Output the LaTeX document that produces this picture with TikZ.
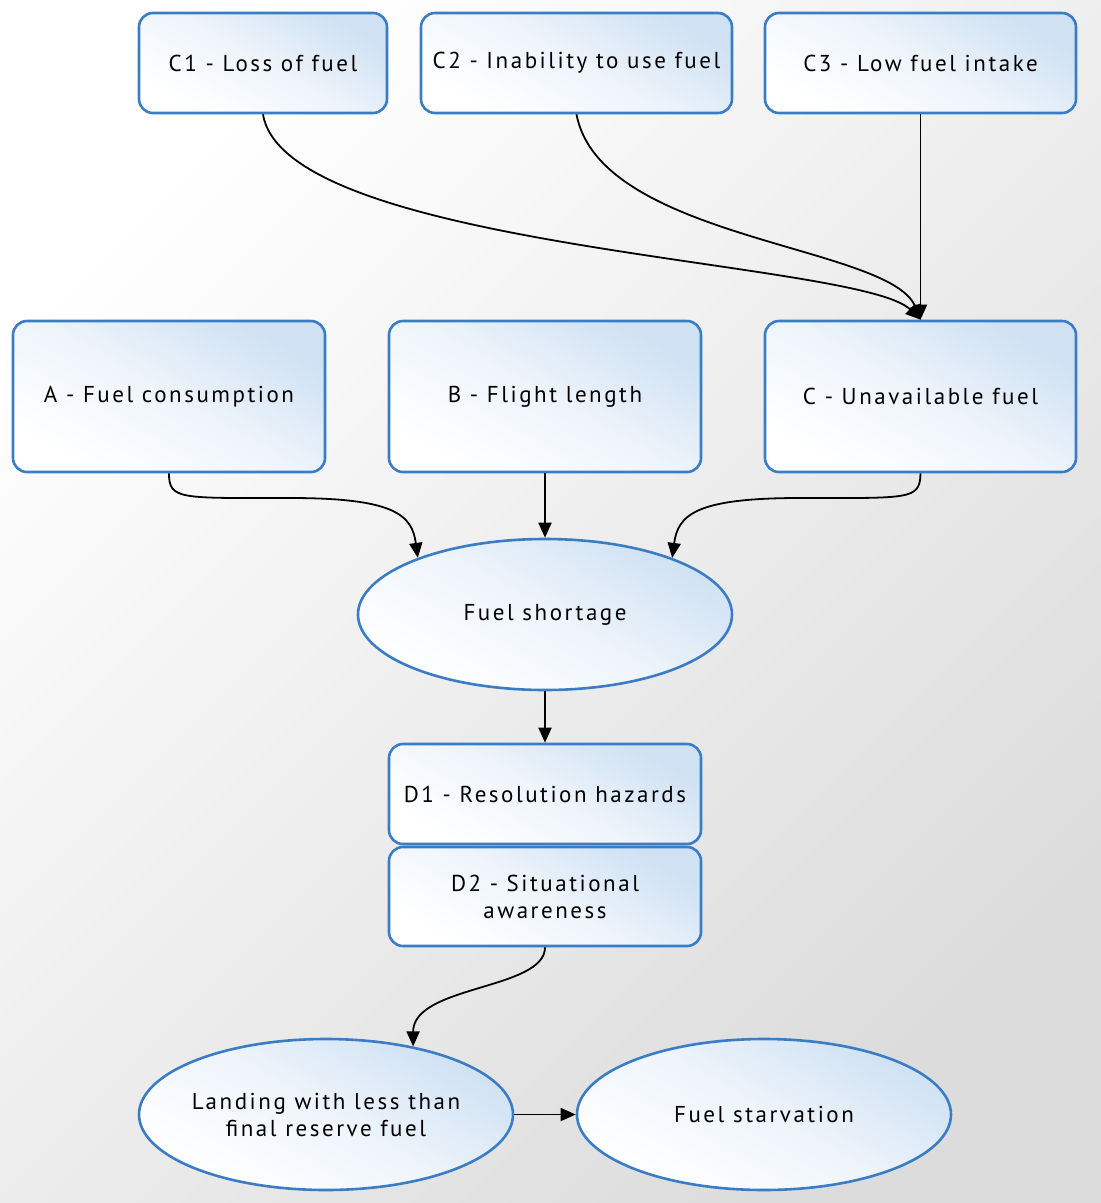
\documentclass[tikz,border=0pt]{standalone}
\usepackage{fontspec}
\setmainfont{PT Sans}[LetterSpace=11]
\usetikzlibrary{arrows.meta,shapes.geometric}
\definecolor{edgeblue}{HTML}{3A7DC5}
\definecolor{fillblue}{HTML}{CFE1F3}
\definecolor{bggray}{HTML}{DCDCDC}
\tikzset{
  lbl/.style={font=\fontsize{23}{27}\selectfont, align=center, inner sep=0pt},
  shadefill/.style={top color=fillblue, bottom color=white, middle color=fillblue!35!white, shading angle=-30},
  box/.style={lbl, draw=edgeblue, line width=2.6pt, rounded corners=14pt, shadefill},
  oval/.style={lbl, ellipse, inner sep=-10pt, draw=edgeblue, line width=2.6pt, shadefill},
  link/.style={draw=black, line width=1.8pt, -{Triangle[length=15pt,width=13pt]}}
}
\begin{document}
\begin{tikzpicture}[x=1pt,y=-1pt]
  \shade[top color=white, bottom color=bggray, shading angle=45] (0,0) rectangle (1101,1203);
  \useasboundingbox (0,0) rectangle (1101,1203);

  \node[box, minimum width=248pt, minimum height=100pt] (c1) at (263,63) {C1 - Loss of fuel};
  \node[box, minimum width=311pt, minimum height=100pt] (c2) at (576.5,63) {C2 - Inability to use fuel};
  \node[box, minimum width=311pt, minimum height=100pt] (c3) at (920.5,63) {C3 - Low fuel intake};

  \node[box, minimum width=312pt, minimum height=151pt] (a) at (169,396.5) {A - Fuel consumption};
  \node[box, minimum width=312pt, minimum height=151pt] (b) at (545,396.5) {B - Flight length};
  \node[box, minimum width=311pt, minimum height=151pt] (c) at (920.5,396.5) {C - Unavailable fuel};

  \node[oval, minimum width=374pt, minimum height=151pt] (fs) at (545,614.5) {Fuel shortage};

  \node[box, minimum width=312pt, minimum height=100pt] (d1) at (545,794) {D1 - Resolution hazards};
  \node[box, minimum width=312pt, minimum height=99pt] (d2) at (545,896.5) {D2 - Situational\\awareness};

  \node[oval, minimum width=374pt, minimum height=151pt] (land) at (326,1114.5) {Landing with less than\\final reserve fuel};
  \node[oval, minimum width=374pt, minimum height=151pt] (starv) at (764,1114.5) {Fuel starvation};

  \draw[link] (c1.south) .. controls (285,250) and (860,260) .. (c.north);
  \draw[link] (c2.south) .. controls (600,240) and (890,245) .. (c.north);
  \draw[link] (c3.south) -- (c.north);

  \draw[link] (a.south) .. controls (169,500) and (180,498) .. (290,498)
                        .. controls (395,498) and (412,515) .. (fs.156);
  \draw[link] (b.south) -- (fs.north);
  \draw[link] (c.south) .. controls (920,500) and (910,498) .. (800,498)
                        .. controls (695,498) and (678,515) .. (fs.24);

  \draw[link] (fs.south) -- (d1.north);
  \draw[link] (d2.south) .. controls (545,990) and (413,985) .. (land.38);
  \draw[link] (land.east) -- (starv.west);
\end{tikzpicture}
\end{document}
